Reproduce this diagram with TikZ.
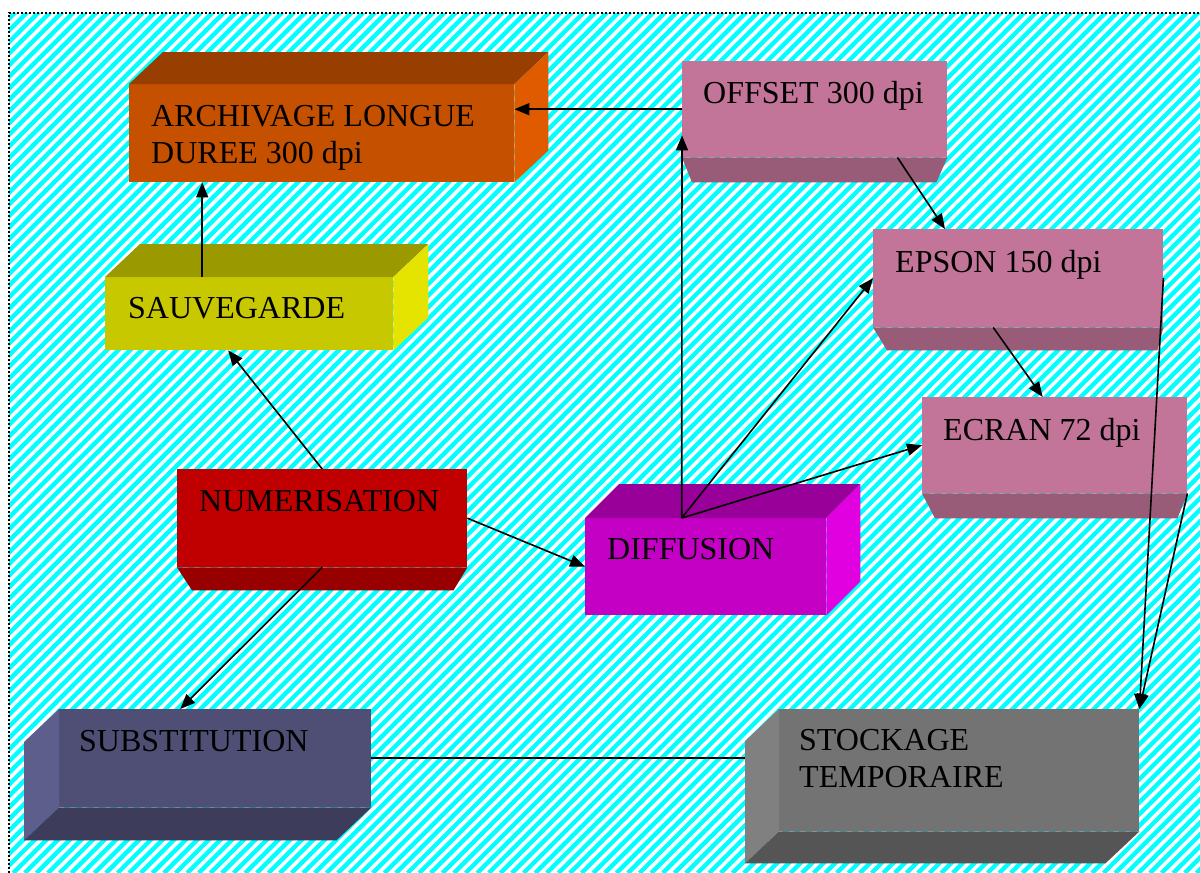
\documentclass[tikz,border=0pt]{standalone}
\usepackage{fontspec}
\setmainfont{Liberation Serif}
\usetikzlibrary{positioning,calc,arrows.meta}

\definecolor{hatch}{HTML}{00FFFF}
\definecolor{archF}{HTML}{C45000}
\definecolor{archT}{HTML}{983E00}
\definecolor{archR}{HTML}{E05A00}
\definecolor{sauvF}{HTML}{C8C800}
\definecolor{sauvT}{HTML}{9A9A00}
\definecolor{sauvR}{HTML}{E4E400}
\definecolor{numF}{HTML}{C00000}
\definecolor{numB}{HTML}{980000}
\definecolor{diffF}{HTML}{C400C4}
\definecolor{diffT}{HTML}{990099}
\definecolor{diffR}{HTML}{E000E0}
\definecolor{pinkF}{HTML}{C27598}
\definecolor{pinkB}{HTML}{985C78}
\definecolor{subF}{HTML}{4F4F75}
\definecolor{subL}{HTML}{5E5E8C}
\definecolor{subB}{HTML}{3D3D5B}
\definecolor{stoF}{HTML}{737373}
\definecolor{stoL}{HTML}{808080}
\definecolor{stoB}{HTML}{555555}

\tikzset{
  face/.style={rectangle, inner sep=0pt, anchor=north west},
  txt/.style={inner sep=0pt, align=left, font=\fontsize{32}{37}\selectfont},
  arr/.style={-{Triangle[length=15pt,width=12pt]}, line width=1.6pt},
  link/.style={line width=1.6pt}
}

\begin{document}
\begin{tikzpicture}[x=1pt,y=-1pt]
    \useasboundingbox (0,0) rectangle (1200,873);
    \fill[white] (0,0) rectangle (1200,873);

    % Background
    \begin{scope}
        \clip (9,13) rectangle (1200,873);
        \foreach \i in {0,1,...,185}
            \draw[hatch, line width=4.4pt] ({\i*11.6-880},873) -- ++(900,-900);
    \end{scope}
    \draw[dash pattern=on 2pt off 2pt, line width=1.5pt] (9,873) -- (9,13) -- (1200,13);

    % Archivage
    \node[face, fill=archF, minimum width=385pt, minimum height=98pt] (archivage) at (129,84) {};
    \fill[archT] (archivage.north west) -- ++(34,-32) -- ($(archivage.north east)+(34,-32)$) -- (archivage.north east) -- cycle;
    \fill[archR] (archivage.north east) -- ++(34,-32) -- ($(archivage.south east)+(34,-32)$) -- (archivage.south east) -- cycle;
    \node[txt, below right=21pt and 22pt of archivage.north west] (archivage-t) {ARCHIVAGE LONGUE\\DUREE 300 dpi};

    % Sauvegarde
    \node[face, fill=sauvF, minimum width=288pt, minimum height=73pt] (sauvegarde) at (105,277) {};
    \fill[sauvT] (sauvegarde.north west) -- ++(35,-33) -- ($(sauvegarde.north east)+(35,-33)$) -- (sauvegarde.north east) -- cycle;
    \fill[sauvR] (sauvegarde.north east) -- ++(35,-33) -- ($(sauvegarde.south east)+(35,-33)$) -- (sauvegarde.south east) -- cycle;
    \node[txt, below right=20pt and 23pt of sauvegarde.north west] (sauvegarde-t) {SAUVEGARDE};

    % Numerisation
    \node[face, fill=numF, minimum width=290pt, minimum height=98pt] (numerisation) at (177,469) {};
    \fill[numB] (numerisation.south west) -- ++(15,23) -- ($(numerisation.south east)+(-14,23)$) -- (numerisation.south east) -- cycle;
    \node[txt, below right=21pt and 22pt of numerisation.north west] (numerisation-t) {NUMERISATION};

    % Diffusion
    \node[face, fill=diffF, minimum width=241pt, minimum height=97pt] (diffusion) at (585,518) {};
    \fill[diffT] (diffusion.north west) -- ++(34,-34) -- ($(diffusion.north east)+(34,-34)$) -- (diffusion.north east) -- cycle;
    \fill[diffR] (diffusion.north east) -- ++(34,-34) -- ($(diffusion.south east)+(34,-34)$) -- (diffusion.south east) -- cycle;
    \node[txt, below right=20pt and 22pt of diffusion.north west] (diffusion-t) {DIFFUSION};

    % Offset
    \node[face, fill=pinkF, minimum width=265pt, minimum height=96pt] (offset) at (682,61) {};
    \fill[pinkB] (offset.south west) -- ++(10,25) -- ($(offset.south east)+(-11,25)$) -- (offset.south east) -- cycle;
    \node[txt, below right=20pt and 21pt of offset.north west] (offset-t) {OFFSET 300 dpi};

    % Epson
    \node[face, fill=pinkF, minimum width=290pt, minimum height=98pt] (epson) at (873,229) {};
    \fill[pinkB] (epson.south west) -- ++(14,23) -- ($(epson.south east)+(-6,23)$) -- (epson.south east) -- cycle;
    \node[txt, below right=21pt and 22pt of epson.north west] (epson-t) {EPSON 150 dpi};

    % Ecran
    \node[face, fill=pinkF, minimum width=265pt, minimum height=96pt] (ecran) at (922,397) {};
    \fill[pinkB] (ecran.south west) -- ++(13,25) -- ($(ecran.south east)+(-10,25)$) -- (ecran.south east) -- cycle;
    \node[txt, below right=21pt and 21pt of ecran.north west] (ecran-t) {ECRAN 72 dpi};

    % Substitution
    \node[face, fill=subF, minimum width=312pt, minimum height=98pt] (substitution) at (59,709) {};
    \fill[subL] (substitution.north west) -- ++(-35,33) -- ($(substitution.south west)+(-35,33)$) -- (substitution.south west) -- cycle;
    \fill[subB] (substitution.south west) -- ++(-35,33) -- ($(substitution.south east)+(-35,33)$) -- (substitution.south east) -- cycle;
    \node[txt, below right=21pt and 20pt of substitution.north west] (substitution-t) {SUBSTITUTION};

    % Stockage
    \node[face, fill=stoF, minimum width=360pt, minimum height=122pt] (stockage) at (779,709) {};
    \fill[stoL] (stockage.north west) -- ++(-34,32) -- ($(stockage.south west)+(-34,32)$) -- (stockage.south west) -- cycle;
    \fill[stoB] (stockage.south west) -- ++(-34,32) -- ($(stockage.south east)+(-34,32)$) -- (stockage.south east) -- cycle;
    \node[txt, below right=20pt and 20pt of stockage.north west] (stockage-t) {STOCKAGE\\TEMPORAIRE};

    % Liens
    \coordinate (sauv-top) at ([xshift=-47pt]sauvegarde.north);
    \coordinate (hub) at ([xshift=-24pt]diffusion.north);
    \coordinate (stockage-back) at ([xshift=-34pt]stockage.west);
    \draw[arr] (offset.west) -- (offset.west -| archivage.east);
    \draw[arr] (sauv-top) -- (sauv-top |- archivage.south);
    \draw[arr] (numerisation.north) -- ([xshift=-21pt]sauvegarde.south);
    \draw[arr] (numerisation.east) -- (diffusion.west);
    \draw[arr] (numerisation.south) -- ([xshift=-35pt]substitution.north);
    \draw[arr] (hub) -- ([yshift=22pt]offset.south west);
    \draw[arr] (hub) -- (epson.west);
    \draw[arr] (hub) -- (ecran.west);
    \draw[arr] ([xshift=-50pt]offset.south east) -- ([xshift=72pt]epson.north west);
    \draw[arr] ([xshift=-25pt]epson.south) -- ([xshift=-12pt]ecran.north);
    \draw[arr] (epson.east) -- (stockage.north east);
    \draw[arr] (ecran.south east) -- (stockage.north east);
    \draw[link] (substitution.east) -- (substitution.east -| stockage-back);
\end{tikzpicture}
\end{document}
